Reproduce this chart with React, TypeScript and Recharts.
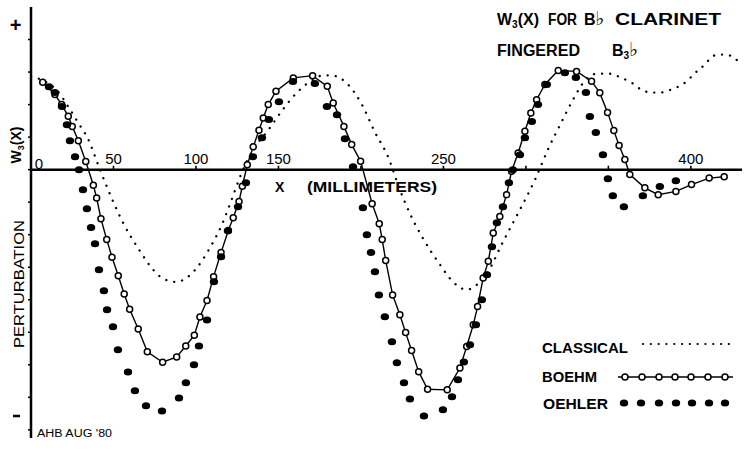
import React from "react";
import {
  ComposedChart,
  Line,
  Scatter,
  XAxis,
  YAxis,
  ReferenceLine,
  ReferenceDot,
} from "recharts";

// x = position along the bore (mm), w = perturbation W3(x) in tick units
const classicalMm = [
  0, 8.5, 16.4, 22.4, 28.5, 34.5, 41.8, 48.5, 56.4, 65.5, 74.5, 80, 87.9, 94.5,
  100, 108.5, 115.8, 121.8, 127.3, 133.9, 143.6, 152.7, 161.8, 172.1, 177, 184,
  192.1, 200.6, 208.5, 216.4, 223.6, 229.7, 237, 247.9, 255.8, 264.2, 270.9,
  277, 286.1, 296.4, 305.5, 313.9, 321.2, 327.9, 336.4, 343, 350.3, 358, 364.8,
  370.3, 376.4, 381.2, 388, 395.8, 403.6, 409.1, 413.3, 420.6, 426.7, 430,
];
const classicalW = [
  2.86, 2.71, 2.4, 1.95, 1.45, 0.95, 0, -0.83, -1.69, -2.46, -3.1, -3.35, -3.45,
  -3.32, -3.05, -2.4, -1.68, -0.9, -0.15, 0.55, 1.2, 1.85, 2.4, 2.8, 2.9, 2.88,
  2.62, 2.0, 1.15, 0.4, -0.62, -1.35, -2.06, -2.92, -3.45, -3.69, -3.51, -3.14,
  -2.22, -1.23, -0.31, 0.68, 1.42, 2.09, 2.77, 2.95, 2.95, 2.82, 2.65, 2.45,
  2.37, 2.37, 2.46, 2.65, 3.02, 3.26, 3.5, 3.54, 3.42, 3.26,
];

const boehmMm = [
  7.1, 14.5, 18.6, 22.6, 25, 28.7, 33.2, 37.8, 39.8, 42.4, 45.9, 49.1, 52.9,
  56.5, 59.8, 65, 70.5, 79.8, 88.3, 93.8, 99, 102.4, 106.7, 110.7, 115.2, 119.6,
  122.6, 126.1, 128.1, 131.1, 134.7, 138.2, 140.8, 143.8, 148.5, 159, 170.7,
  179.6, 183.2, 189.7, 194.4, 199.8, 206.8, 211.1, 212.9, 215, 219.2, 223.6,
  227.1, 230.7, 235, 240.4, 252.3, 260, 264.1, 268.1, 270.7, 274.1, 277.2,
  280.2, 284.2, 288.3, 291.3, 295.3, 299.4, 303, 306.5, 311.5, 319.6, 330.7,
  339.8, 344.8, 349.5, 353.3, 356.5, 360, 363, 372.1, 380.2, 390.9, 400.4,
  411.1, 420.2,
];
const boehmW = [
  2.69, 2.31, 2.0, 1.64, 1.33, 0.89, 0.25, -0.48, -0.87, -1.51, -2.15, -2.69,
  -3.26, -3.82, -4.29, -4.9, -5.6, -5.92, -5.76, -5.42, -5.09, -4.53, -4.02,
  -3.29, -2.55, -1.87, -1.48, -0.98, -0.51, 0.15, 0.7, 1.21, 1.59, 2.0, 2.41,
  2.82, 2.89, 2.56, 2.05, 1.33, 0.77, 0.26, -1.05, -1.66, -2.15, -2.79, -3.85,
  -4.46, -5.01, -5.56, -6.21, -6.75, -6.77, -6.1, -5.44, -4.77, -4.21, -3.33,
  -2.82, -1.95, -1.44, -0.77, -0.05, 0.51, 1.18, 1.74, 2.15, 2.62, 3.05, 3.02,
  2.72, 2.36, 1.76, 1.2, 0.74, 0.31, -0.15, -0.56, -0.77, -0.67, -0.46, -0.26,
  -0.22,
];

const oehlerMm = [
  10.9, 14.5, 18.8, 21.8, 23.6, 26.7, 29.1, 31.5, 33.9, 36.4, 38.8, 41.2, 44.2,
  46.1, 49.7, 52.7, 58.8, 63, 69.7, 79.4, 89.7, 93.9, 98.8, 101.8, 106.7, 110.9,
  115.2, 119.4, 125.5, 130.3, 134.5, 140, 144.2, 150.3, 158.8, 172.1, 179.4,
  185.5, 190.3, 195.2, 201.2, 203.6, 206.1, 208.5, 210.9, 214.5, 218.8, 221.8,
  226.1, 229.7, 238.2, 249.7, 255.2, 258.8, 262.4, 266.1, 269.7, 273.3, 276.4,
  279.4, 282.4, 286.1, 289.7, 292.1, 296.4, 299.4, 303.6, 307.3, 312.7, 323.6,
  330.3, 336.4, 338.8, 342.4, 346.7, 349.7, 352.7, 359.4, 370.9, 381.2, 390.9,
];
const oehlerW = [
  2.55, 2.37, 1.94, 1.38, 0.89, 0.4, 0, -0.62, -1.2, -1.78, -2.28, -3.08, -3.72,
  -4.31, -4.83, -5.54, -6.22, -6.8, -7.26, -7.42, -7.02, -6.55, -6.0, -5.42,
  -4.62, -3.45, -2.68, -1.88, -1.14, -0.4, 0.4, 0.98, 1.54, 2.09, 2.71, 2.65,
  1.94, 1.69, 0.95, 0.09, -1.17, -2.0, -2.55, -3.14, -3.85, -4.52, -5.29, -5.94,
  -6.55, -7.05, -7.57, -7.38, -6.98, -6.46, -5.91, -5.38, -4.77, -4.0, -3.23,
  -2.37, -1.63, -1.14, -0.4, 0, 0.46, 0.98, 1.48, 2.0, 2.62, 2.98, 2.83, 2.37,
  1.63, 1.14, 0.46, -0.28, -0.8, -1.14, -0.8, -0.52, -0.34,
];

const xTickMarks = [50, 100, 150, 200, 250, 300, 350, 400];
const xTickLabels = [0, 50, 100, 150, 250, 400];
const yTicks = [-8, -7, -6, -5, -4, -3, -2, -1, 0, 1, 2, 3, 4];

const FONT = "'Liberation Sans', Arial, 'DejaVu Sans', sans-serif";
const FLAT_FONT = "'DejaVu Sans', sans-serif";

const toRows = (xs: number[], ys: number[]) =>
  xs.map((x, i) => ({ x, w: ys[i] }));

const classicalRows = toRows(classicalMm, classicalW);
const boehmRows = toRows(boehmMm, boehmW);
const oehlerRows = toRows(oehlerMm, oehlerW);

function XTickLabel(props: any) {
  const { viewBox, text } = props;
  if (!viewBox) return null;
  const zero = text === "0";
  const cx = viewBox.x + viewBox.width / 2 + (zero ? 8 : 0);
  return (
    <text
      x={cx}
      y={viewBox.y + viewBox.height / 2 - (zero ? 1 : 6)}
      textAnchor="middle"
      fontFamily={FONT}
      fontSize={15}
      fill="#000"
    >
      {text}
    </text>
  );
}

const OehlerDot = (p: any) => (
  <ellipse cx={p.cx} cy={p.cy} rx={4.2} ry={3.5} fill="#000" />
);

function Annotations() {
  const bold = { fontFamily: FONT, fontWeight: 700, fill: "#000" } as const;
  const legendCircles = [625, 642, 659, 675, 691, 708, 725];
  const legendDots = [624, 641, 659, 676, 692, 709, 725];
  return (
    <svg
      width={745}
      height={451}
      style={{ position: "absolute", left: 0, top: 0, pointerEvents: "none" }}
    >
      {/* sign marks on the vertical axis */}
      <text x={15.5} y={25} textAnchor="middle" dominantBaseline="central" fontSize={20} {...bold}>
        +
      </text>
      <line x1={13} x2={20} y1={416} y2={416} stroke="#000" strokeWidth={2.5} />

      <text transform="translate(21,145) rotate(-90)" textAnchor="middle" fontSize={14} {...bold}>
        W<tspan fontSize={9} dy={3}>3</tspan>
        <tspan dy={-3}>(X)</tspan>
      </text>
      <text
        transform="translate(24,284) rotate(-90)"
        textAnchor="middle"
        fontSize={14}
        textLength={128}
        lengthAdjust="spacingAndGlyphs"
        {...bold}
        fontWeight={400}
      >
        PERTURBATION
      </text>

      <text x={37} y={437} fontSize={10} textLength={75} lengthAdjust="spacingAndGlyphs" {...bold} fontWeight={400}>
        AHB AUG '80
      </text>

      <text x={275} y={192} fontSize={14} {...bold}>
        X
      </text>
      <text x={307} y={192} fontSize={14} textLength={130} lengthAdjust="spacingAndGlyphs" {...bold}>
        (MILLIMETERS)
      </text>

      {/* title */}
      <text x={497} y={25} fontSize={16} {...bold}>
        W<tspan fontSize={10} dy={3}>3</tspan>
        <tspan dy={-3}>(X)</tspan>
      </text>
      <text x={548} y={25} fontSize={16} textLength={29} lengthAdjust="spacingAndGlyphs" {...bold}>
        FOR
      </text>
      <text x={584} y={25} fontSize={16} {...bold}>
        B<tspan fontFamily={FLAT_FONT} fontSize={19}>♭</tspan>
      </text>
      <text x={615} y={25} fontSize={16} textLength={106} lengthAdjust="spacingAndGlyphs" {...bold}>
        CLARINET
      </text>
      <text x={497} y={56} fontSize={16} textLength={83} lengthAdjust="spacingAndGlyphs" {...bold}>
        FINGERED
      </text>
      <text x={612} y={56} fontSize={16} {...bold}>
        B<tspan fontSize={10} dy={3}>3</tspan>
        <tspan dy={-3} fontFamily={FLAT_FONT} fontSize={19}>♭</tspan>
      </text>

      {/* legend */}
      <text x={542} y={353} fontSize={14} textLength={86} lengthAdjust="spacingAndGlyphs" {...bold}>
        CLASSICAL
      </text>
      <line
        x1={643}
        x2={736}
        y1={344}
        y2={344}
        stroke="#000"
        strokeWidth={2.2}
        strokeDasharray="0.1 7.7"
        strokeLinecap="round"
      />
      <text x={542} y={382} fontSize={14} textLength={55} lengthAdjust="spacingAndGlyphs" {...bold}>
        BOEHM
      </text>
      <line x1={618} x2={733} y1={377} y2={377} stroke="#000" strokeWidth={1.4} />
      {legendCircles.map((cx) => (
        <circle key={cx} cx={cx} cy={377} r={3} fill="#fff" stroke="#000" strokeWidth={1.5} />
      ))}
      <text x={543} y={409} fontSize={14} textLength={65} lengthAdjust="spacingAndGlyphs" {...bold}>
        OEHLER
      </text>
      {legendDots.map((cx) => (
        <ellipse key={cx} cx={cx} cy={403} rx={4.2} ry={3.5} fill="#000" />
      ))}
    </svg>
  );
}

export default function App() {
  return (
    <div
      style={{
        position: "absolute",
        left: 0,
        top: 0,
        width: 745,
        height: 451,
        background: "#fff",
      }}
    >
      <ComposedChart
        width={745}
        height={451}
        margin={{ top: 7, right: 3, bottom: 13, left: 0 }}
      >
        <XAxis
          type="number"
          dataKey="x"
          domain={[0, 431]}
          allowDataOverflow
          hide
        />
        <YAxis
          type="number"
          dataKey="w"
          width={31}
          domain={[-8.25, 5]}
          allowDataOverflow
          ticks={yTicks}
          interval={0}
          axisLine={{ stroke: "#000", strokeWidth: 2.5 }}
          tickLine={{ stroke: "#000", strokeWidth: 1.5 }}
          tickSize={3}
          tick={() => <g />}
        />
        <ReferenceLine y={0} stroke="#000" strokeWidth={2.5} ifOverflow="extendDomain" />
        {xTickMarks.map((t) => (
          <ReferenceLine
            key={`m${t}`}
            segment={[
              { x: t, y: 0 },
              { x: t, y: 0.12 },
            ]}
            stroke="#000"
            strokeWidth={1.6}
          />
        ))}
        {xTickLabels.map((t) => (
          <ReferenceDot
            key={`l${t}`}
            x={t}
            y={0}
            r={0}
            stroke="none"
            fill="none"
            label={<XTickLabel text={String(t)} />}
          />
        ))}
        <Line
          data={classicalRows}
          dataKey="w"
          type="monotone"
          stroke="#000"
          strokeWidth={2.3}
          strokeDasharray="0.1 8"
          strokeLinecap="round"
          dot={false}
          activeDot={false}
          isAnimationActive={false}
        />
        <Line
          data={boehmRows}
          dataKey="w"
          type="linear"
          stroke="#000"
          strokeWidth={1.4}
          dot={{ r: 3, fill: "#fff", stroke: "#000", strokeWidth: 1.5 }}
          activeDot={false}
          isAnimationActive={false}
        />
        <Scatter
          data={oehlerRows}
          dataKey="w"
          shape={OehlerDot}
          isAnimationActive={false}
        />
      </ComposedChart>
      <Annotations />
    </div>
  );
}
